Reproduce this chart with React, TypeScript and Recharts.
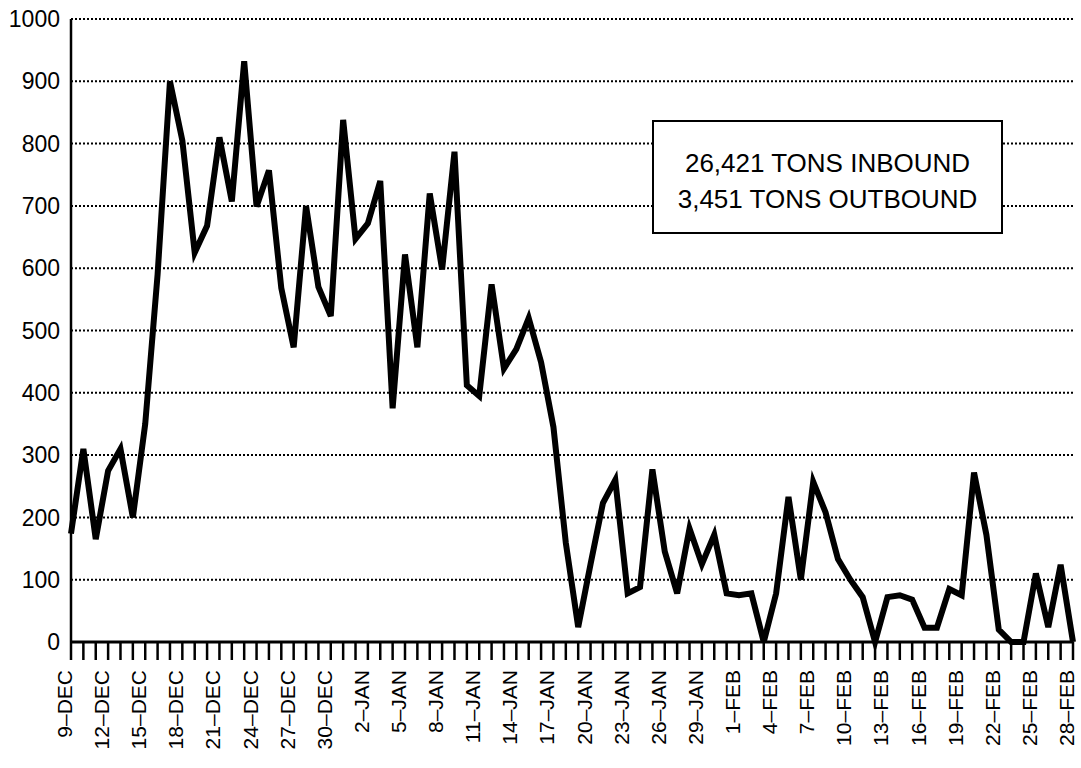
import React from 'react'
import { LineChart, Line, XAxis, YAxis, CartesianGrid } from 'recharts'

// daily tonnage, 9-DEC .. 28-FEB
const MONTHS = [
  { name: 'DEC', first: 9, last: 31 },
  { name: 'JAN', first: 1, last: 31 },
  { name: 'FEB', first: 1, last: 28 },
]

const DEC_TONS = [
  174, 310, 165, 275, 310, 200, 350, 590, 900, 805, 625, 668, 810, 707, 932,
  699, 757, 568, 473, 700, 570, 523, 838,
]
const JAN_TONS = [
  647, 672, 740, 375, 622, 473, 720, 598, 787, 412, 395, 574, 439, 470, 520,
  449, 345, 159, 24, 125, 223, 260, 78, 88, 277, 145, 78, 182, 125, 172, 78,
]
const FEB_TONS = [
  75, 78, 0, 78, 233, 100, 257, 208, 133, 100, 72, 0, 72, 75, 68, 23, 23, 85,
  75, 272, 172, 20, 0, 0, 110, 24, 124, 0,
]

const Y_TICKS = [0, 100, 200, 300, 400, 500, 600, 700, 800, 900, 1000]

const SUMMARY = ['26,421 TONS INBOUND', '3,451 TONS OUTBOUND']

const FONT = '"Liberation Sans", Arial, Helvetica, sans-serif'

const days: string[] = []
MONTHS.forEach((m) => {
  for (let d = m.first; d <= m.last; d++) days.push(`${d}–${m.name}`)
})
const tons = [...DEC_TONS, ...JAN_TONS, ...FEB_TONS]
const data = days.map((day, i) => ({ day, tons: tons[i] }))

function DayTick(props: any) {
  const { x, y, payload, index } = props
  return (
    <g>
      <line x1={x} x2={x} y1={y} y2={y + 18} stroke="#000" strokeWidth={2.5} />
      {index % 3 === 0 && (
        <text
          transform={`translate(${x + 1},${y + 28}) rotate(-90)`}
          textAnchor="end"
          fontSize={21}
          fontFamily={FONT}
          fill="#000"
        >
          {payload.value}
        </text>
      )}
    </g>
  )
}

export default function App() {
  return (
    <div style={{ position: 'absolute', left: 0, top: 0, width: 1081, height: 768, background: '#fff' }}>
      <LineChart
        width={1081}
        height={768}
        data={data}
        margin={{ top: 19, right: 8, bottom: 0, left: 0 }}
      >
        <CartesianGrid
          vertical={false}
          stroke="#000"
          strokeWidth={2}
          strokeDasharray="2 2"
        />
        <XAxis
          dataKey="day"
          interval={0}
          height={126}
          tickLine={false}
          tickSize={0}
          tickMargin={0}
          axisLine={{ stroke: '#000', strokeWidth: 3 }}
          tick={<DayTick />}
        />
        <YAxis
          domain={[0, 1000]}
          ticks={Y_TICKS}
          width={71}
          tickLine={false}
          tickSize={0}
          tickMargin={11}
          axisLine={{ stroke: '#000', strokeWidth: 2.5 }}
          tick={{ fill: '#000', fontSize: 23, fontFamily: FONT }}
        />
        <Line
          dataKey="tons"
          stroke="#000"
          strokeWidth={6}
          strokeLinejoin="miter"
          dot={false}
          isAnimationActive={false}
        />
      </LineChart>
      <div
        style={{
          position: 'absolute',
          left: 652,
          top: 120,
          width: 351,
          height: 114,
          border: '2px solid #000',
          background: '#fff',
          fontFamily: FONT,
          fontSize: 26,
          lineHeight: '36px',
          textAlign: 'center',
          paddingTop: 23,
          boxSizing: 'border-box',
          color: '#000',
        }}
      >
        {SUMMARY.map((s) => (
          <div key={s}>{s}</div>
        ))}
      </div>
    </div>
  )
}
